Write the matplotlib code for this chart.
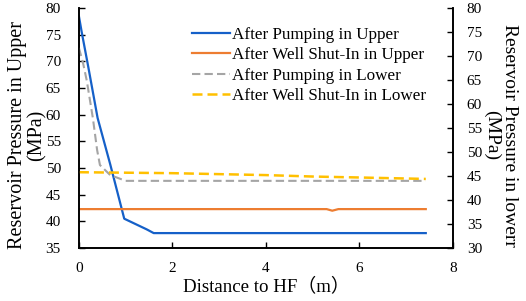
import matplotlib
matplotlib.use("Agg")
import matplotlib.pyplot as plt

plt.rcParams["font.family"] = ["Liberation Serif", "Noto Sans CJK SC"]
plt.rcParams["font.size"] = 11

# upper layer (left axis)
x_pump_up = [0, 0.06, 0.2, 0.4, 0.67, 0.97, 1.45, 1.6, 3.0, 5.0, 7.42]
y_pump_up = [78.5, 75.5, 69.0, 59.4, 50.7, 40.5, 38.5, 37.8, 37.8, 37.8, 37.8]
x_shut_up = [0, 2.0, 4.0, 5.3, 5.42, 5.55, 7.42]
y_shut_up = [42.3, 42.3, 42.3, 42.3, 42.0, 42.3, 42.3]

# lower layer (right axis)
x_pump_low = [0, 0.09, 0.17, 0.3, 0.39, 0.45, 0.67, 1.0, 3.0, 5.0, 7.42]
y_pump_low = [71.7, 68.5, 64.8, 57.0, 50.4, 47.3, 45.2, 44.0, 44.0, 44.0, 44.0]
x_shut_low = [0, 1.0, 2.0, 3.0, 4.0, 5.0, 6.0, 7.42]
y_shut_low = [45.8, 45.7, 45.6, 45.4, 45.2, 44.9, 44.7, 44.4]

fig = plt.figure(figsize=(5.26, 3.01), dpi=100)
ax = fig.add_axes([0.150, 0.176, 0.711, 0.797])
ax2 = ax.twinx()

l1, = ax.plot(x_pump_up, y_pump_up, color="#1560C8", lw=1.6,
              label="After Pumping in Upper")
l2, = ax.plot(x_shut_up, y_shut_up, color="#ED7D31", lw=1.6,
              label="After Well Shut-In in Upper")
l3, = ax2.plot(x_pump_low, y_pump_low, color="#A5A5A5", lw=1.5, ls=(0, (4, 2)),
               label="After Pumping in Lower")
l4, = ax2.plot(x_shut_low, y_shut_low, color="#FFC000", lw=1.8, ls=(0, (4, 2)),
               label="After Well Shut-In in Lower")

ax.set_xlim(0, 8)
ax.set_ylim(35, 80)
ax2.set_ylim(30, 80)
ax.set_xticks([0, 2, 4, 6, 8])
ax.set_yticks(range(35, 81, 5))
ax2.set_yticks(range(30, 81, 5))

for a in (ax, ax2):
    a.spines["top"].set_visible(False)
    a.tick_params(direction="in", length=4, width=1)
    for s in a.spines.values():
        s.set_linewidth(1.2)
ax.tick_params(axis="y", pad=13)
ax.tick_params(axis="x", pad=10)
ax2.tick_params(axis="y", pad=10)

ax.set_xlabel("Distance to HF（m）", fontsize=13.6, labelpad=2)
fig.text(27 / 526, 1 - 135 / 301, "Reservoir Pressure in Upper\n(MPa)",
         rotation=90, ha="center", va="center", fontsize=14.5,
         linespacing=1.05, multialignment="center")
fig.text(501 / 526, 1 - 135 / 301, "Reservoir Pressure in lowerr\n(MPa)",
         rotation=270, ha="center", va="center", fontsize=14,
         linespacing=1.05, multialignment="center")

fig.legend(handles=[l1, l2, l3, l4], loc="upper left",
           bbox_to_anchor=(192 / 526, 1 - 27 / 301), frameon=False,
           fontsize=12.3, handlelength=2.2, handletextpad=0.15,
           labelspacing=0.25, borderpad=0, borderaxespad=0)

fig.savefig("out.png", dpi=100)
